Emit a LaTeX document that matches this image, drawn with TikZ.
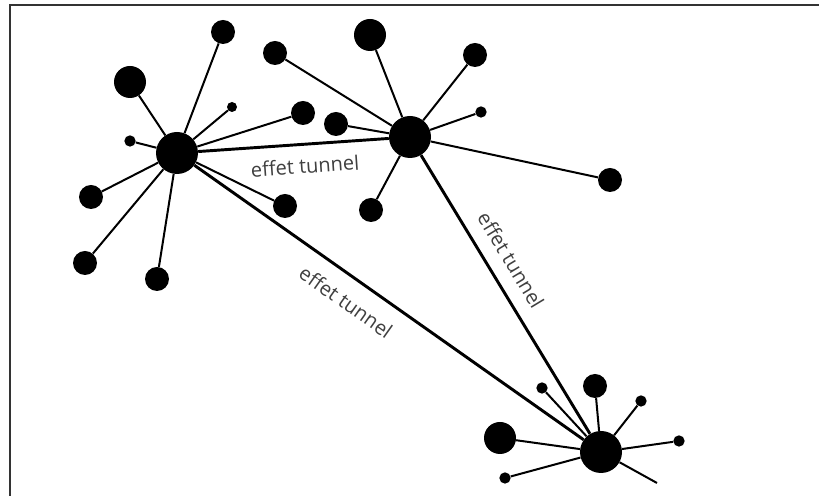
\documentclass[tikz,border=0pt]{standalone}
\usepackage{fontspec}
\setmainfont{Open Sans}
\begin{document}
\begin{tikzpicture}[x=0.75pt,y=0.75pt,
  dot/.style={circle,fill=black,inner sep=0pt},
  hub/.style={dot,minimum size=31.5pt},
  bigdot/.style={dot,minimum size=24pt},
  middot/.style={dot,minimum size=18pt},
  smalldot/.style={dot,minimum size=8.5pt},
  spoke/.style={line width=1.5pt},
  tunnel/.style={line width=2.2pt},
  lbl/.style={text=black!75,font=\fontsize{15}{18}\selectfont,inner sep=0pt}]
\useasboundingbox (0,0) rectangle (819,496);
\fill[white] (0,0) rectangle (819,496);
% frame
\draw[black!80,line width=1.3pt] (10,0) -- (10,491) -- (819,491);
% hubs
\node[hub] (A) at (177,343) {};
\node[hub] (B) at (410,359) {};
\node[hub] (C) at (601,44) {};
% A satellites
\node[middot] (a1) at (223,464) {};
\node[bigdot] (a2) at (130,414) {};
\node[smalldot,minimum size=7.5pt] (a3) at (232,389) {};
\node[middot] (a4) at (303,383) {};
\node[smalldot] (a5) at (130,355) {};
\node[middot] (a6) at (91,299) {};
\node[middot] (a7) at (85,233) {};
\node[middot] (a8) at (157,217) {};
\node[middot] (a9) at (285,290) {};
% B satellites
\node[middot] (b1) at (275,443) {};
\node[bigdot] (b2) at (370,461) {};
\node[middot] (b3) at (475,441) {};
\node[smalldot] (b4) at (481,384) {};
\node[middot] (b5) at (336,372) {};
\node[middot] (b6) at (610,316) {};
\node[middot] (b7) at (371,286) {};
% C satellites
\node[smalldot] (c1) at (542,108) {};
\node[middot] (c2) at (595,110) {};
\node[smalldot] (c3) at (641,95) {};
\node[smalldot] (c4) at (679,55) {};
\node[bigdot] (c5) at (500,58) {};
\node[smalldot] (c6) at (505,18) {};
\coordinate (c7) at (657,13);
% spokes
\foreach \s in {a1,a2,a3,a4,a5,a6,a7,a8,a9} \draw[spoke] (A) -- (\s);
\foreach \s in {b1,b2,b3,b4,b5,b6,b7} \draw[spoke] (B) -- (\s);
\foreach \s in {c1,c2,c3,c4,c5,c6,c7} \draw[spoke] (C) -- (\s);
% tunnels
\draw[tunnel] (A) -- (B);
\draw[tunnel] (A) -- (C);
\draw[tunnel] (B) -- (C);
% labels
\node[lbl,rotate=4] (t1) at (305,330) {effet tunnel};
\node[lbl,rotate=-35.3] (t2) at (346,194) {effet tunnel};
\node[lbl,rotate=-58.9] (t3) at (511,236) {effet tunnel};
\end{tikzpicture}
\end{document}
